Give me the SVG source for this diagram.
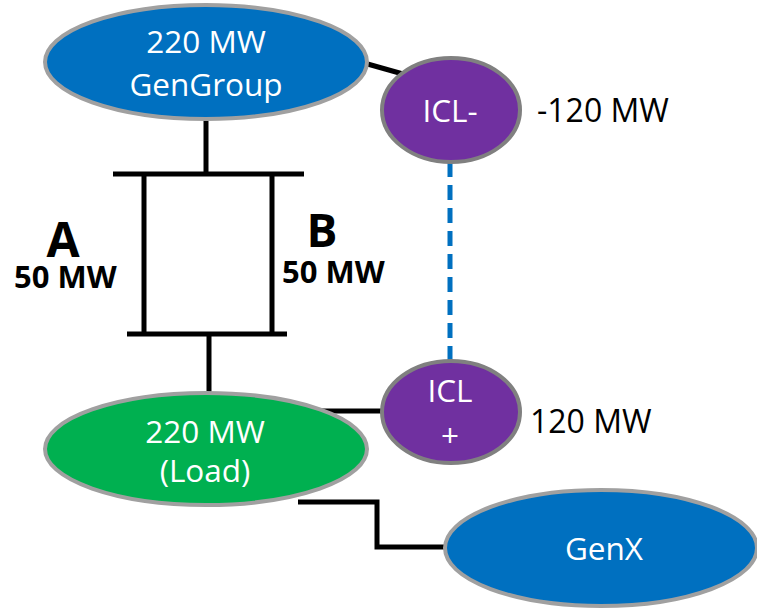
<svg xmlns="http://www.w3.org/2000/svg" width="757" height="609" viewBox="0 0 757 609">
<style>
.wire{stroke:#000;stroke-width:5;fill:none}
.dash{stroke:#0070C0;stroke-width:5;fill:none;stroke-dasharray:15 8}
.blue{fill:#0070C0;stroke:#A0A0A0;stroke-width:4}
.green{fill:#00B050;stroke:#A0A0A0;stroke-width:4}
.purple{fill:#7030A0;stroke:#808080;stroke-width:4}
.wt{font-family:"Open Sans","Noto Sans",sans-serif;font-size:31.5px;fill:#fff;text-anchor:middle}
.bt{font-family:"Open Sans","Noto Sans",sans-serif;font-size:32px;fill:#000}
.bold{font-family:"Open Sans","Noto Sans",sans-serif;font-weight:bold;fill:#000}
</style>
<rect width="757" height="609" fill="#fff"/>
<g id="connectors">
<line class="wire" x1="206" y1="118" x2="206" y2="174"/>
<line class="wire" x1="113" y1="174" x2="304" y2="174"/>
<line class="wire" x1="144" y1="174" x2="144" y2="334"/>
<line class="wire" x1="272" y1="174" x2="272" y2="334"/>
<line class="wire" x1="127" y1="334" x2="287" y2="334"/>
<line class="wire" x1="209" y1="334" x2="209" y2="394"/>
<line class="wire" x1="364" y1="63" x2="403" y2="74"/>
<line class="dash" x1="450" y1="162" x2="450" y2="362"/>
<line class="wire" x1="318" y1="411" x2="384" y2="411"/>
<polyline class="wire" points="298,502 377,502 377,547 447,547"/>
</g>
<g id="gengroup">
<ellipse class="blue" cx="206" cy="62" rx="161" ry="57"/>
<text class="wt" x="206" y="53">220 MW</text>
<text class="wt" x="206" y="96">GenGroup</text>
</g>
<g id="icl-minus">
<ellipse class="purple" cx="451" cy="110" rx="69" ry="52"/>
<text class="wt" x="450" y="122" font-size="30">ICL-</text>
<text class="bt" x="537" y="122">-120 MW</text>
</g>
<g id="line-a">
<text class="bold" x="63" y="257" font-size="48" text-anchor="middle">A</text>
<text class="bold" x="14" y="288" font-size="31">50 MW</text>
</g>
<g id="line-b">
<text class="bold" x="322" y="247" font-size="46" text-anchor="middle">B</text>
<text class="bold" x="282" y="283" font-size="31">50 MW</text>
</g>
<g id="load">
<ellipse class="green" cx="206" cy="449" rx="161" ry="56"/>
<text class="wt" x="205" y="443">220 MW</text>
<text class="wt" x="205" y="482">(Load)</text>
</g>
<g id="icl-plus">
<ellipse class="purple" cx="451" cy="412" rx="69" ry="51"/>
<text class="wt" x="450" y="402" font-size="29">ICL</text>
<text class="wt" x="450" y="447" font-size="29">+</text>
<text class="bt" x="530" y="433">120 MW</text>
</g>
<g id="genx">
<ellipse class="blue" cx="601" cy="548" rx="156" ry="58"/>
<text class="wt" x="604" y="560">GenX</text>
</g>
</svg>
